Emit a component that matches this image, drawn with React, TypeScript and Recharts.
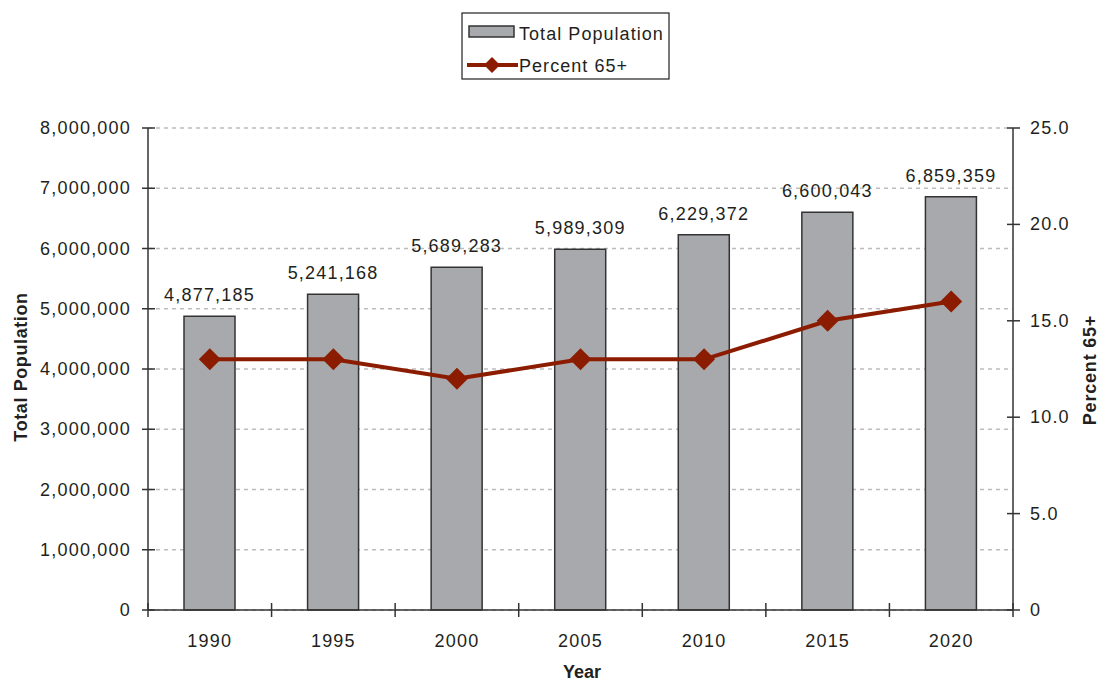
import React from "react";
import { ComposedChart, Bar, Line, XAxis, YAxis, CartesianGrid, LabelList } from "recharts";

const years = ["1990", "1995", "2000", "2005", "2010", "2015", "2020"];
const totalPopulation = [4877185, 5241168, 5689283, 5989309, 6229372, 6600043, 6859359];
const percent65 = [13.0, 13.0, 12.0, 13.0, 13.0, 15.0, 16.0];
const leftTicks = [0, 1000000, 2000000, 3000000, 4000000, 5000000, 6000000, 7000000, 8000000];
const rightTicks = [0, 5, 10, 15, 20, 25];

const data = years.map((year, i) => ({
    year,
    total: totalPopulation[i],
    pct: percent65[i],
}));

const W = 1099;
const H = 683;
const PLOT_LEFT = 148;
const PLOT_RIGHT = 1013;
const PLOT_TOP = 128;
const PLOT_BOTTOM = 610;
const BAND = (PLOT_RIGHT - PLOT_LEFT) / years.length;

const FONT = "'Liberation Sans', Arial, Helvetica, sans-serif";
const TEXT = "#231f20";
const AXIS = "#333333";
const RED = "#8c1c00";
const BAR_FILL = "#a8a9ad";

const fmtNum = (v: number) => v.toLocaleString("en-US");

const LeftTick = ({ x, y, payload }: any) => (
    <g>
        <line x1={x - 6} x2={x + 7} y1={y} y2={y} stroke={AXIS} strokeWidth={1.5} />
        <text x={x - 17} y={y + 6} textAnchor="end" fontSize={18} letterSpacing={1.2} fill={TEXT} fontFamily={FONT}>
            {fmtNum(payload.value)}
        </text>
    </g>
);

const RightTick = ({ x, y, payload }: any) => (
    <g>
        <line x1={x - 6} x2={x + 7} y1={y} y2={y} stroke={AXIS} strokeWidth={1.5} />
        <text x={x + 17} y={y + 6} textAnchor="start" fontSize={18} letterSpacing={1.2} fill={TEXT} fontFamily={FONT}>
            {payload.value === 0 ? "0" : payload.value.toFixed(1)}
        </text>
    </g>
);

const BottomTick = ({ x, y, payload, index }: any) => (
    <g>
        <line x1={x - BAND / 2} x2={x - BAND / 2} y1={y - 7} y2={y + 7} stroke={AXIS} strokeWidth={1.5} />
        {index === years.length - 1 && (
            <line x1={x + BAND / 2} x2={x + BAND / 2} y1={y - 7} y2={y + 7} stroke={AXIS} strokeWidth={1.5} />
        )}
        <text x={x} y={y + 37} textAnchor="middle" fontSize={18} letterSpacing={1.2} fill={TEXT} fontFamily={FONT}>
            {payload.value}
        </text>
    </g>
);

const BarValue = ({ x, y, width, value }: any) => (
    <text x={x + width / 2} y={y - 15} textAnchor="middle" fontSize={18} letterSpacing={1.2} fill={TEXT} fontFamily={FONT}>
        {fmtNum(value)}
    </text>
);

const Diamond = ({ cx, cy }: any) => {
    if (cx == null || cy == null) return null;
    const r = 11;
    return <path d={`M${cx},${cy - r}L${cx + r},${cy}L${cx},${cy + r}L${cx - r},${cy}Z`} fill={RED} />;
};

export default function App() {
    return (
        <div style={{ position: "absolute", left: 0, top: 0, width: W, height: H, background: "#fff", fontFamily: FONT }}>
            <ComposedChart
                width={W}
                height={H}
                data={data}
                margin={{ top: PLOT_TOP, right: 0, left: 0, bottom: 0 }}
                barCategoryGap={0}
            >
                <CartesianGrid
                    yAxisId="left"
                    vertical={false}
                    stroke="#bdbdbd"
                    strokeWidth={1.5}
                    strokeDasharray="4 4"
                />
                <XAxis
                    dataKey="year"
                    height={H - PLOT_BOTTOM}
                    tickSize={0}
                    tickMargin={0}
                    tickLine={false}
                    axisLine={{ stroke: AXIS, strokeWidth: 1.5 }}
                    tick={<BottomTick />}
                    interval={0}
                />
                <YAxis
                    yAxisId="left"
                    orientation="left"
                    width={PLOT_LEFT}
                    domain={[0, 8000000]}
                    ticks={leftTicks}
                    tickSize={0}
                    tickMargin={0}
                    tickLine={false}
                    axisLine={{ stroke: AXIS, strokeWidth: 1.5 }}
                    tick={<LeftTick />}
                    interval={0}
                />
                <YAxis
                    yAxisId="right"
                    orientation="right"
                    width={W - PLOT_RIGHT}
                    domain={[0, 25]}
                    ticks={rightTicks}
                    tickSize={0}
                    tickMargin={0}
                    tickLine={false}
                    axisLine={{ stroke: AXIS, strokeWidth: 1.5 }}
                    tick={<RightTick />}
                    interval={0}
                />
                <Bar
                    yAxisId="left"
                    dataKey="total"
                    fill={BAR_FILL}
                    stroke={AXIS}
                    strokeWidth={1.5}
                    barSize={51}
                    isAnimationActive={false}
                >
                    <LabelList dataKey="total" content={<BarValue />} />
                </Bar>
                <Line
                    yAxisId="right"
                    dataKey="pct"
                    type="linear"
                    stroke={RED}
                    strokeWidth={4}
                    dot={<Diamond />}
                    activeDot={false}
                    isAnimationActive={false}
                />
            </ComposedChart>
            <svg
                width={W}
                height={H}
                style={{ position: "absolute", left: 0, top: 0, pointerEvents: "none" }}
            >
                {/* legend */}
                <rect x={462} y={13} width={207} height={66} fill="#fff" stroke={TEXT} strokeWidth={1.2} />
                <rect x={469} y={26} width={45} height={11} fill={BAR_FILL} stroke={AXIS} strokeWidth={1.5} />
                <text x={519} y={40} fontSize={18} letterSpacing={1.05} fill={TEXT} fontFamily={FONT}>
                    Total Population
                </text>
                <line x1={467} x2={518} y1={65} y2={65} stroke={RED} strokeWidth={4} />
                <path d="M492,57L500,65L492,73L484,65Z" fill={RED} />
                <text x={519} y={72} fontSize={18} letterSpacing={1.05} fill={TEXT} fontFamily={FONT}>
                    Percent 65+
                </text>
                {/* axis titles */}
                <text
                    transform="translate(27,367) rotate(-90)"
                    textAnchor="middle"
                    fontSize={18}
                    fontWeight="bold"
                    letterSpacing={0.6}
                    fill={TEXT}
                    fontFamily={FONT}
                >
                    Total Population
                </text>
                <text
                    transform="translate(1096,370) rotate(-90)"
                    textAnchor="middle"
                    fontSize={18}
                    fontWeight="bold"
                    letterSpacing={0.8}
                    fill={TEXT}
                    fontFamily={FONT}
                >
                    Percent 65+
                </text>
                <text x={582} y={678} textAnchor="middle" fontSize={18} fontWeight="bold" fill={TEXT} fontFamily={FONT}>
                    Year
                </text>
            </svg>
        </div>
    );
}
